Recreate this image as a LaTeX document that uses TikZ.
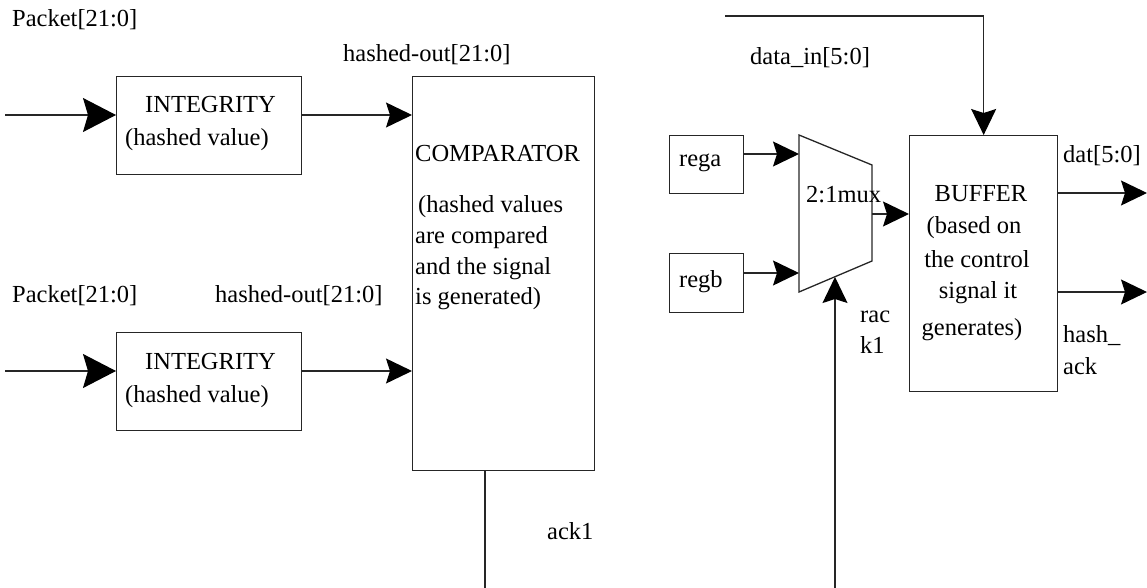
\documentclass[tikz,border=0pt]{standalone}
\usepackage{fontspec}
\setmainfont{Liberation Serif}
\usetikzlibrary{arrows.meta,calc}
\begin{document}
\begin{tikzpicture}[x=1pt,y=-1pt,
  font=\fontsize{24.5}{30}\selectfont,
  wire/.style={line width=1.2pt, draw=black!85},
  box/.style={draw=black!85, line width=1.3pt, inner sep=0pt, anchor=north west},
  bigtip/.style={-{Stealth[length=33pt,width=34pt,inset=5pt,color=black]}},
  tip/.style={-{Stealth[length=26pt,width=25pt,inset=4pt,color=black]}},
  lbl/.style={anchor=base west, inner sep=0pt},
  clbl/.style={anchor=base, inner sep=0pt}]
\useasboundingbox (0,0) rectangle (1147,588);

% ---- blocks ----
\node[box, minimum width=185pt, minimum height=98pt] (i1) at (116,76) {};
\node[box, minimum width=185pt, minimum height=98pt] (i2) at (116,332) {};
\node[box, minimum width=182pt, minimum height=394pt] (cmp) at (412,76) {};
\node[box, minimum width=74pt, minimum height=58pt] (rega) at (669,135) {};
\node[box, minimum width=74pt, minimum height=59pt] (regb) at (669,253) {};
\node[box, minimum width=148pt, minimum height=256pt] (buf) at (909,135) {};

% 2:1 multiplexer outline and its ports
\coordinate (mTL) at (799,135);
\coordinate (mTR) at (872,165);
\coordinate (mBR) at (872,261);
\coordinate (mBL) at (799,292);
\draw[wire, line width=1.3pt] (mTL) -- (mTR) -- (mBR) -- (mBL) -- cycle;
\coordinate (mA) at (799,154);
\coordinate (mB) at (799,273);
\coordinate (mO) at (872,214);
\coordinate (mS) at (835,277);

% ---- free ends of the wires ----
\coordinate (src1) at (5,115);
\coordinate (src2) at (5,371);
\coordinate (ackend) at (485,588);
\coordinate (dstart) at (725,16);
\coordinate (datend) at (1147,193);
\coordinate (hashend) at (1147,292);
\coordinate (rackend) at (835,588);

% ---- wires ----
\draw[wire,bigtip] (src1) -- (src1 -| i1.west);
\draw[wire,bigtip] (src2) -- (src2 -| i2.west);
\draw[wire,tip] (i1.east |- src1) -- (cmp.west |- src1);
\draw[wire,tip] (i2.east |- src2) -- (cmp.west |- src2);
\draw[wire] (cmp.south -| ackend) -- (ackend);
\draw[wire,tip] (dstart) -| (buf.north);
\draw[wire,tip] (rega.east |- mA) -- (mA);
\draw[wire,tip] (regb.east |- mB) -- (mB);
\draw[wire,tip] (mO) -- (buf.west |- mO);
\draw[wire,tip] (buf.east |- datend) -- (datend);
\draw[wire,tip] (buf.east |- hashend) -- (hashend);
\draw[wire,tip] (rackend) -- (mS);

% ---- labels ----
\node[lbl] (l1) at (12,27) {Packet[21:0]};
\node[lbl] (l2) at (343,62) {hashed-out[21:0]};
\node[lbl] (l3) at (12,302) {Packet[21:0]};
\node[lbl] (l4) at (215,302) {hashed-out[21:0]};
\node[lbl] (t1a) at (145,113) {INTEGRITY};
\node[lbl] (t1b) at (125,146) {(hashed value)};
\node[lbl] (t2a) at (145,369) {INTEGRITY};
\node[lbl] (t2b) at (125,402) {(hashed value)};
\node[lbl] (c0) at (415,162) {COMPARATOR};
\node[lbl] (c1) at (418,212) {(hashed values};
\node[lbl] (c2) at (415,243) {are compared};
\node[lbl] (c3) at (415,274) {and the signal};
\node[lbl] (c4) at (415,304) {is generated)};
\node[lbl] (lack) at (547,539) {ack1};
\node[lbl] (ldin) at (750,65) {data\_in[5:0]};
\node[lbl] (ta) at (679,167) {rega};
\node[lbl] (tb) at (679,287) {regb};
\node[lbl] (tm) at (806,202) {2:1mux};
\node[clbl] (b0) at (981,201) {BUFFER};
\node[clbl] (b1) at (974,233) {(based on};
\node[clbl] (b2) at (977,267) {the control};
\node[clbl] (b3) at (978,298) {signal it};
\node[clbl] (b4) at (972,335) {generates)};
\node[lbl] (ldat) at (1063,163) {dat[5:0]};
\node[lbl] (lh1) at (1063,342) {hash\_};
\node[lbl] (lh2) at (1063,374) {ack};
\node[lbl] (lr1) at (860,322) {rac};
\node[lbl] (lr2) at (860,353) {k1};
\end{tikzpicture}
\end{document}
